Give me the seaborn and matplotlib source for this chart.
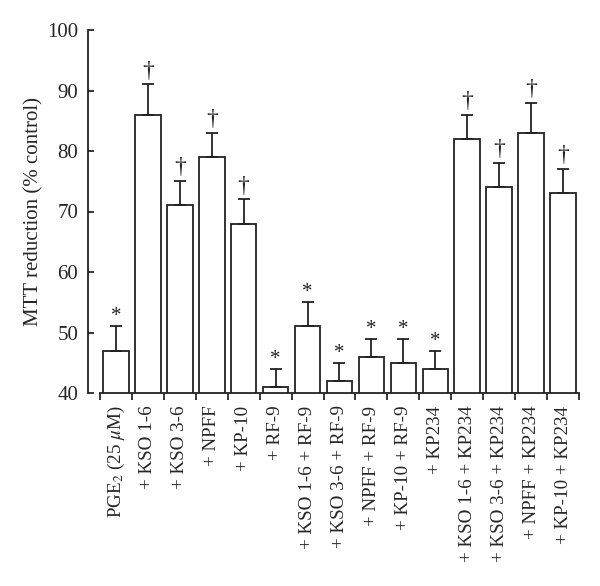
import numpy as np
import pandas as pd
import matplotlib
matplotlib.use("Agg")
import matplotlib.pyplot as plt
import seaborn as sns

# Values
labels = [
    r"PGE$_2$ (25 $\mu$M)", "+ KSO 1-6", "+ KSO 3-6", "+ NPFF", "+ KP-10",
    "+ RF-9", "+ KSO 1-6 + RF-9", "+ KSO 3-6 + RF-9", "+ NPFF + RF-9",
    "+ KP-10 + RF-9", "+ KP234", "+ KSO 1-6 + KP234", "+ KSO 3-6 + KP234",
    "+ NPFF + KP234", "+ KP-10 + KP234",
]
means = [47, 86, 71, 79, 68, 41, 51, 42, 46, 45, 44, 82, 74, 83, 73]
errors = [4, 5, 4, 4, 4, 3, 4, 3, 3, 4, 3, 4, 4, 5, 4]
marks = ["*", "\u2020", "\u2020", "\u2020", "\u2020", "*", "*", "*", "*", "*",
         "*", "\u2020", "\u2020", "\u2020", "\u2020"]

sns.set_style("ticks")
plt.rcParams['font.family'] = ['Liberation Serif', 'DejaVu Serif']
plt.rcParams['mathtext.fontset'] = 'stix'

df = pd.DataFrame({'group': labels, 'value': means})

fig = plt.figure(figsize=(6, 5.86), dpi=100)
ax = fig.add_axes([88 / 600, 1 - 393 / 586, (579 - 88) / 600, (393 - 30) / 586])

sns.barplot(data=df, x='group', y='value', order=labels, color='white',
            edgecolor='#222222', linewidth=1.3, width=0.8, errorbar=None, ax=ax)

# upper error bars only
ax.errorbar(range(len(means)), means, yerr=[np.zeros(len(errors)), errors],
            fmt='none', ecolor='#222222', elinewidth=1.3, capsize=4, capthick=1.3)

for i, (m, e, s) in enumerate(zip(means, errors, marks)):
    if s == "*":
        fs, off = 15, 0
    else:
        fs, off = 17, 2
    ax.annotate(s, (i, m + e), xytext=(0, off), textcoords='offset points',
                ha='center', va='bottom', fontsize=fs, color='#222222')

ax.set_ylim(40, 100)
ax.set_yticks(range(40, 101, 10))
ax.set_xlim(-0.875, len(labels) - 0.5)

ax.set_xticks(range(len(labels)))
ax.set_xticklabels(labels, rotation=90, fontsize=13.7)
ax.set_xticks(np.arange(-0.5, len(labels)), minor=True)
ax.tick_params(axis='x', which='major', length=0, pad=9)
ax.tick_params(axis='x', which='minor', length=5, width=1.3, direction='out')
ax.tick_params(axis='y', length=4, width=1.3, direction='in', labelsize=15, pad=7)

ax.spines['top'].set_visible(False)
ax.spines['right'].set_visible(False)
ax.spines['bottom'].set_bounds(-0.5, len(labels) - 0.5)
for sp in ['left', 'bottom']:
    ax.spines[sp].set_linewidth(1.3)
    ax.spines[sp].set_color('#222222')

ax.set_xlabel('')
ax.set_ylabel('MTT reduction (% control)', fontsize=15, labelpad=3)

fig.savefig('out.png', dpi=100)
